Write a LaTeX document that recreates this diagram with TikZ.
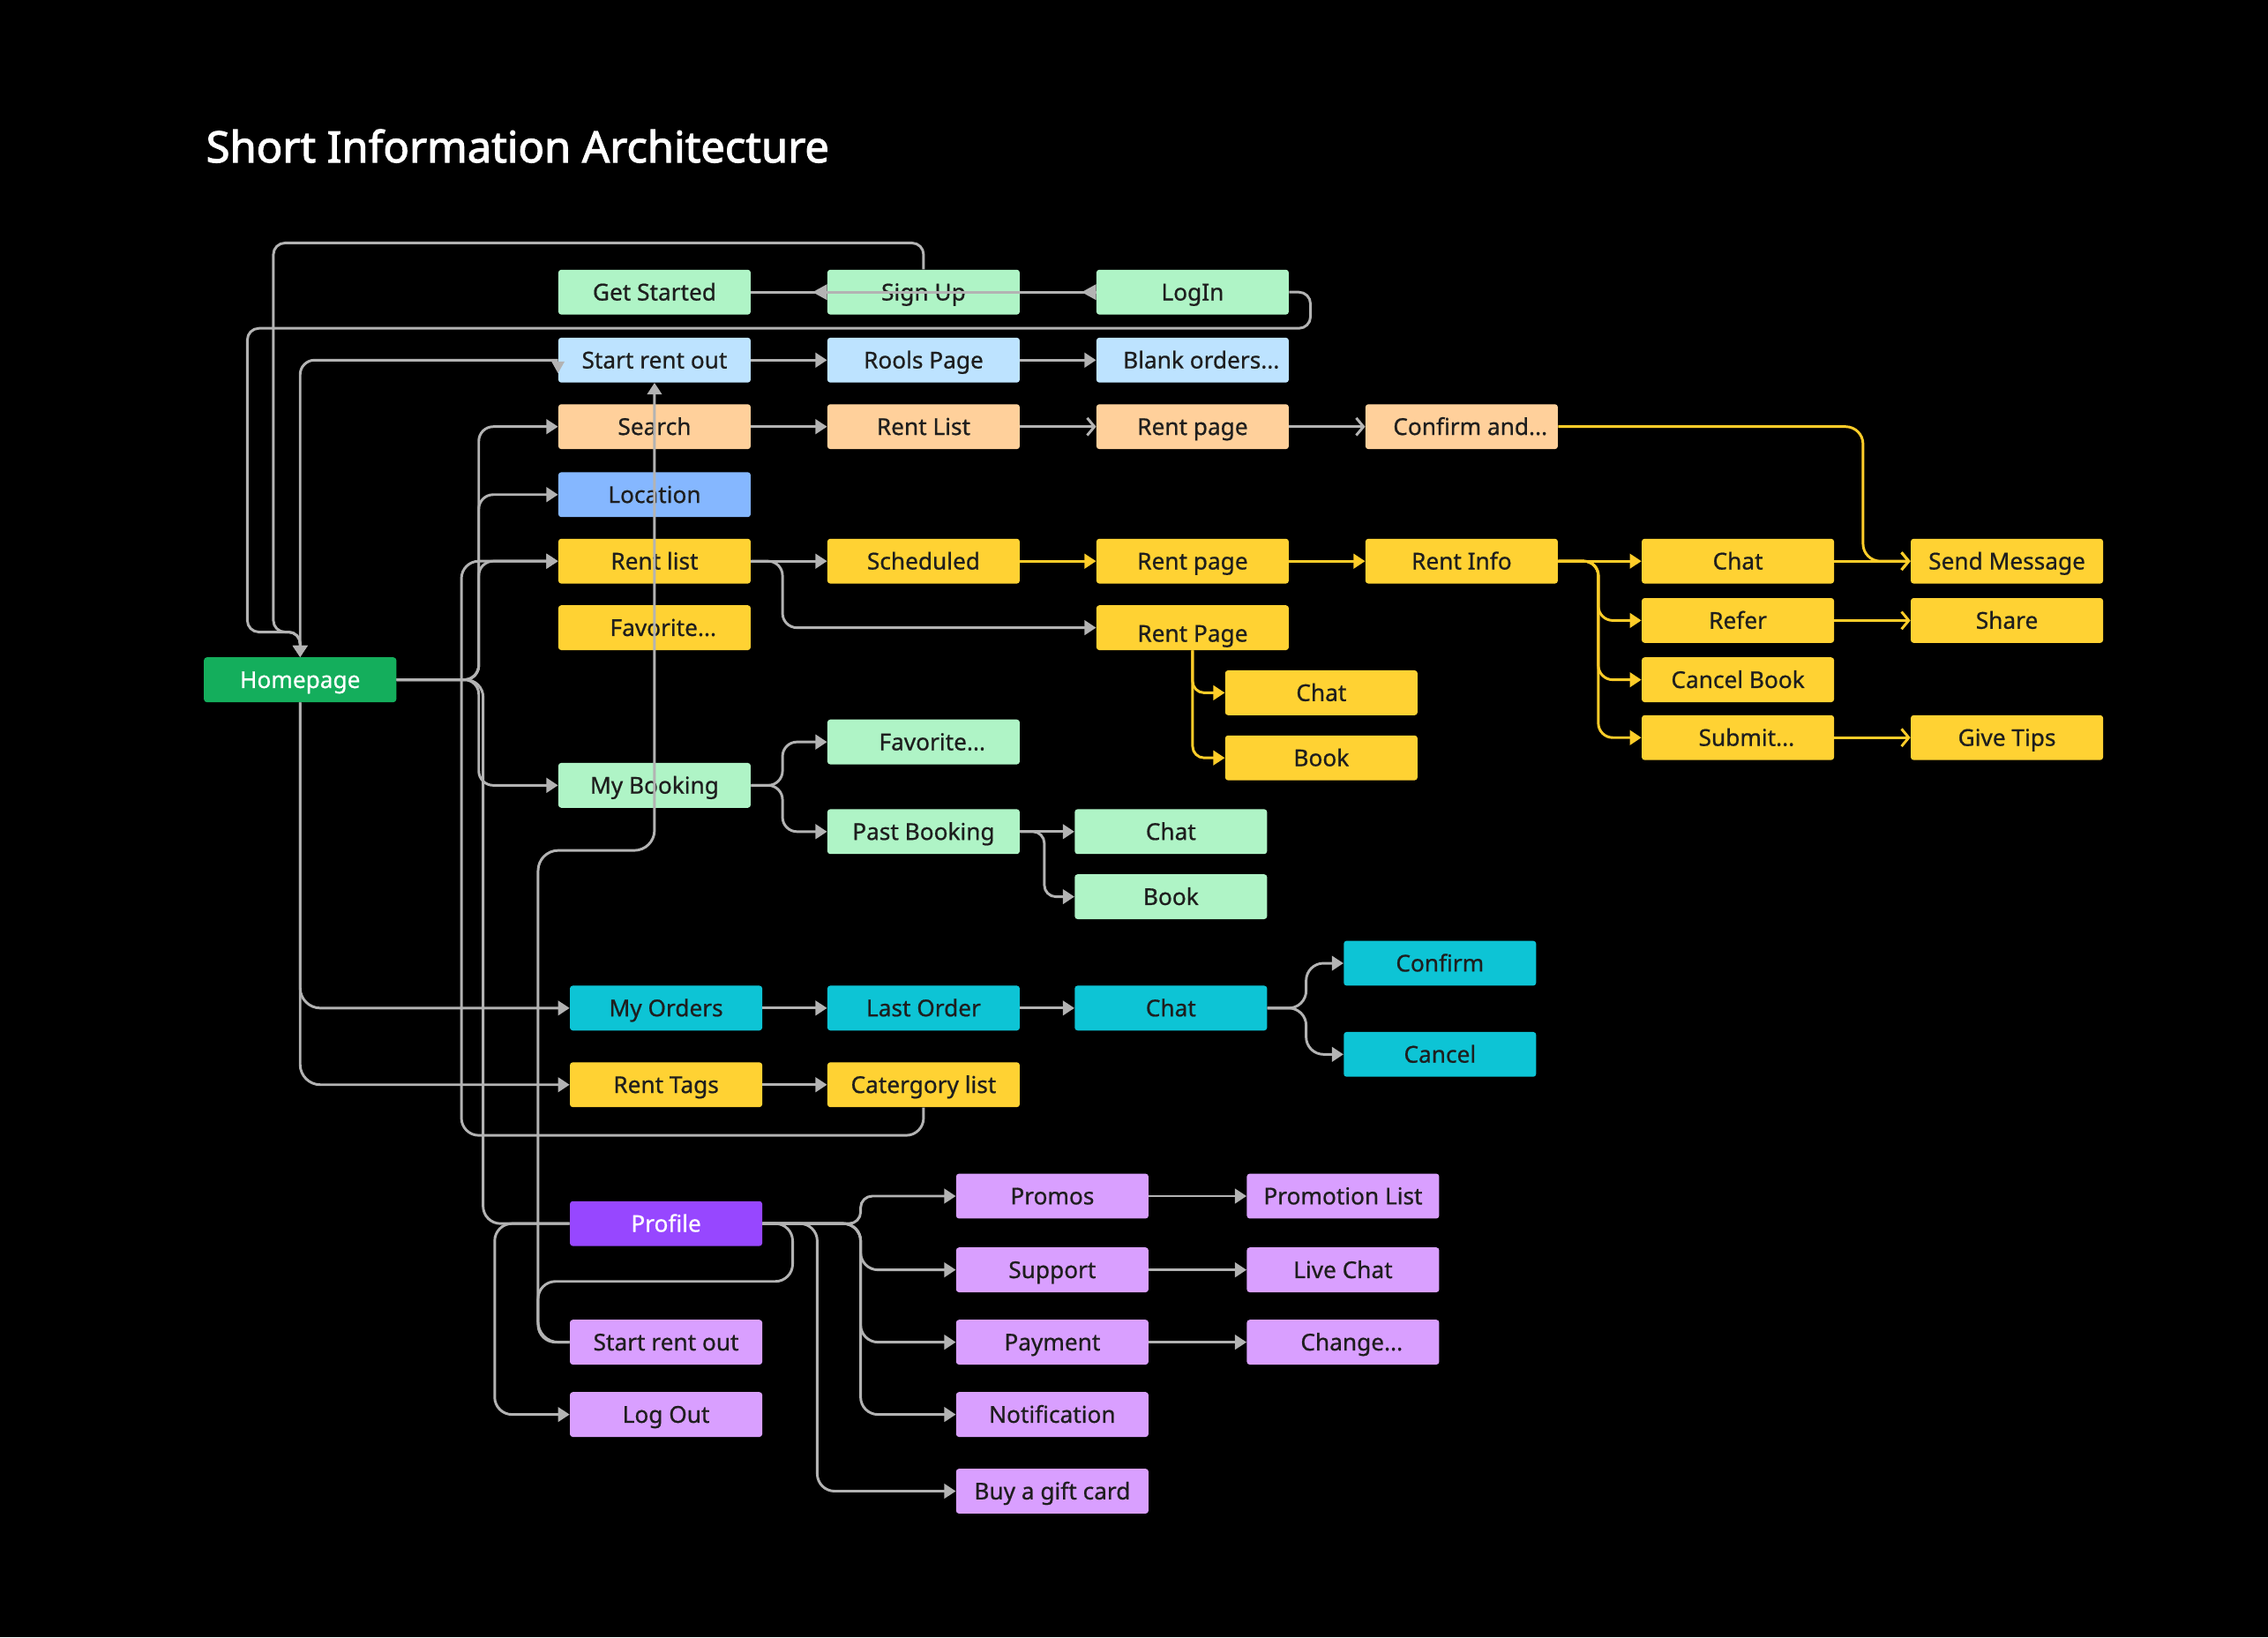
\documentclass[tikz,border=0pt]{standalone}
\usepackage{fontspec}
\setmainfont{Noto Sans}
\newfontfamily\titlefont{Noto Sans}[FakeBold=2.2]
\newfontfamily\boxfont{Noto Sans}[FakeBold=0.7]
\usetikzlibrary{arrows.meta}
\pgfdeclarelayer{bg}
\pgfsetlayers{bg,main}
\definecolor{mint}{HTML}{AFF4C6}
\definecolor{sky}{HTML}{BDE3FF}
\definecolor{peach}{HTML}{FFD09B}
\definecolor{blueL}{HTML}{85B7FF}
\definecolor{yel}{HTML}{FFD233}
\definecolor{hgreen}{HTML}{14AE5C}
\definecolor{tealc}{HTML}{0DC4D5}
\definecolor{violet}{HTML}{9747FF}
\definecolor{lilac}{HTML}{D99FFF}
\definecolor{cgray}{HTML}{B3B3B3}
\definecolor{cyel}{HTML}{FFCD29}
\definecolor{ink}{HTML}{1E1E1E}
\newcommand{\ellpad}[1]{\hspace*{12pt}#1}
\tikzset{
  box/.style={minimum width=133pt, minimum height=31pt, inner sep=0pt, rounded corners=2pt,
    text height=11.4pt, text depth=0pt,
    font=\boxfont\fontsize{16}{18}\selectfont, text=ink},
  gline/.style={draw=cgray, line width=1.8pt, rounded corners=10pt},
  yline/.style={draw=cyel, line width=1.8pt, rounded corners=10pt},
  ftip/.style={-{Triangle[length=8pt,width=10pt]}},
  otip/.style={-{Straight Barb[length=5pt,width=12pt]}},
}
\begin{document}
\begin{tikzpicture}[x=1pt,y=-1pt]
\fill[black] (0,0) rectangle (1568,1132);
\useasboundingbox (0,0) rectangle (1568,1132);

\node[anchor=west, text=white, font=\titlefont\fontsize{29.8}{32}\selectfont] (title) at (139,101) {Short Information Architecture};

% nodes
\node[box, fill=mint] (gs) at (452.5,202) {Get Started};
\node[box, fill=mint] (su) at (638.5,202) {Sign Up};
\node[box, fill=mint] (login) at (824.5,202) {LogIn};
\node[box, fill=sky] (sro) at (452.5,249) {Start rent out};
\node[box, fill=sky] (rools) at (638.5,249) {Rools Page};
\node[box, fill=sky] (blank) at (824.5,249) {\ellpad{Blank orders...}};
\node[box, fill=peach] (search) at (452.5,295) {Search};
\node[box, fill=peach] (rlist) at (638.5,295) {Rent List};
\node[box, fill=peach] (rpage) at (824.5,295) {Rent page};
\node[box, fill=peach] (confirm) at (1010.5,295) {\ellpad{Confirm and...}};
\node[box, fill=blueL] (loc) at (452.5,342) {Location};
\node[box, fill=yel] (rl) at (452.5,388) {Rent list};
\node[box, fill=yel] (sched) at (638.5,388) {Scheduled};
\node[box, fill=yel] (rp1) at (824.5,388) {Rent page};
\node[box, fill=yel] (ri) at (1010.5,388) {Rent Info};
\node[box, fill=yel] (chaty) at (1201.5,388) {Chat};
\node[box, fill=yel] (send) at (1387.5,388) {Send Message};
\node[box, fill=yel] (fav1) at (452.5,434) {\ellpad{Favorite...}};
\node[box, fill=yel, text height=19.4pt] (rp2) at (824.5,434) {Rent Page};
\node[box, fill=yel] (refer) at (1201.5,429) {Refer};
\node[box, fill=yel] (share) at (1387.5,429) {Share};
\node[box, fill=yel] (cancelb) at (1201.5,470) {Cancel Book};
\node[box, fill=yel] (submit) at (1201.5,510) {\ellpad{Submit...}};
\node[box, fill=yel] (tips) at (1387.5,510) {Give Tips};
\node[box, fill=yel] (chat1) at (913.5,479) {Chat};
\node[box, fill=yel] (book1) at (913.5,524) {Book};
\node[box, fill=hgreen, text=white] (hp) at (207.5,470) {Homepage};
\node[box, fill=mint] (fav2) at (638.5,513) {\ellpad{Favorite...}};
\node[box, fill=mint] (mb) at (452.5,543) {My Booking};
\node[box, fill=mint] (past) at (638.5,575) {Past Booking};
\node[box, fill=mint] (chat2) at (809.5,575) {Chat};
\node[box, fill=mint] (book2) at (809.5,620) {Book};
\node[box, fill=tealc] (mo) at (460.5,697) {My Orders};
\node[box, fill=tealc] (lo) at (638.5,697) {Last Order};
\node[box, fill=tealc] (chat3) at (809.5,697) {Chat};
\node[box, fill=tealc] (conf) at (995.5,666) {Confirm};
\node[box, fill=tealc] (canc) at (995.5,729) {Cancel};
\node[box, fill=yel] (rt) at (460.5,750) {Rent Tags};
\node[box, fill=yel] (cat) at (638.5,750) {Catergory list};
\node[box, fill=violet, text=white] (prof) at (460.5,846) {Profile};
\node[box, fill=lilac] (sro2) at (460.5,928) {Start rent out};
\node[box, fill=lilac] (logout) at (460.5,978) {Log Out};
\node[box, fill=lilac] (promos) at (727.5,827) {Promos};
\node[box, fill=lilac] (support) at (727.5,878) {Support};
\node[box, fill=lilac] (payment) at (727.5,928) {Payment};
\node[box, fill=lilac] (notif) at (727.5,978) {Notification};
\node[box, fill=lilac] (gift) at (727.5,1031) {Buy a gift card};
\node[box, fill=lilac] (plist) at (928.5,827) {Promotion List};
\node[box, fill=lilac] (live) at (928.5,878) {Live Chat};
\node[box, fill=lilac] (change) at (928.5,928) {\ellpad{Change...}};

% hidden line behind Support
\begin{pgfonlayer}{bg}
\draw[gline, rounded corners=12pt] (prof.east) -- (694,846) -- ([xshift=-33.5pt]payment.north);
\end{pgfonlayer}

% top gray connectors
\draw[gline] (gs.east) -- (login.west);
\fill[cgray] ([yshift=-5.5pt]su.west) -- ([xshift=-10pt]su.west) -- ([yshift=5.5pt]su.west) -- cycle;
\fill[cgray] ([yshift=-5.5pt]login.west) -- ([xshift=-10pt]login.west) -- ([yshift=5.5pt]login.west) -- cycle;
\draw[gline, ftip, rounded corners=8pt] (su.north) -- (638.5,168) -- (189,168) -- (189,437) -- (207.5,437) -- (hp.north);
\draw[gline, ftip, rounded corners=8pt] (login.east) -- (906,202) -- (906,227) -- (171,227) -- (171,437) -- (207.5,437) -- (hp.north);
\draw[gline, ftip] (sro.west) -- (207.5,249) -- (hp.north);
\fill[cgray] ([shift={(-4.5,1)}]sro.west) -- ([shift={(4.5,1)}]sro.west) -- ([shift={(0,9)}]sro.west) -- cycle;

\draw[gline, ftip] (sro.east) -- (rools.west);
\draw[gline, ftip] (rools.east) -- (blank.west);
\draw[gline, ftip] (search.east) -- (rlist.west);
\draw[gline, otip] (rlist.east) -- (rpage.west);
\draw[gline, otip] (rpage.east) -- (confirm.west);

% homepage bus
\draw[gline, ftip] (hp.east) -- (331,470) -- (331,295) -- (search.west);
\draw[gline, ftip] (hp.east) -- (331,470) -- (331,342) -- (loc.west);
\draw[gline, ftip] (hp.east) -- (331,470) -- (331,388) -- (rl.west);
\draw[gline, ftip] (hp.east) -- (331,470) -- (331,543) -- (mb.west);
\draw[gline, rounded corners=12pt] (hp.east) -- (334,470) -- (334,846) -- (prof.west);
\draw[gline, ftip, rounded corners=12pt] (cat.south) -- (638.5,785) -- (319,785) -- (319,388) -- (rl.west);
\draw[gline, ftip, rounded corners=14pt] (hp.south) -- (207.5,697) -- (mo.west);
\draw[gline, ftip, rounded corners=14pt] (hp.south) -- (207.5,750) -- (rt.west);

% rent list
\draw[gline, ftip] (rl.east) -- (sched.west);
\draw[gline, ftip] (rl.east) -- (541,388) -- (541,434) -- (rp2.west);

% my booking
\draw[gline, ftip] (mb.east) -- (541,543) -- (541,513) -- (fav2.west);
\draw[gline, ftip] (mb.east) -- (541,543) -- (541,575) -- (past.west);
\draw[gline, ftip] (past.east) -- (chat2.west);
\draw[gline, ftip, rounded corners=8pt] (past.east) -- (722,575) -- (722,620) -- (book2.west);

% orders
\draw[gline, ftip] (mo.east) -- (lo.west);
\draw[gline, ftip] (lo.east) -- (chat3.west);
\draw[gline, ftip, rounded corners=12pt] (chat3.east) -- (903,697) -- (903,666) -- (conf.west);
\draw[gline, ftip, rounded corners=12pt] (chat3.east) -- (903,697) -- (903,729) -- (canc.west);
\draw[gline, ftip] (rt.east) -- (cat.west);

% start rent out loop
\draw[gline, ftip, rounded corners=14pt] (sro2.west) -- (372,928) -- (372,588) -- (452.5,588) -- (sro.south);
\draw[gline, rounded corners=12pt] (prof.east) -- (548,846) -- (548,886) -- (372,886) -- (372,928) -- (sro2.west);
\draw[gline, ftip, rounded corners=12pt] (prof.west) -- (342,846) -- (342,978) -- (logout.west);

% profile branches
\draw[gline, ftip, rounded corners=8pt] (prof.east) -- (595,846) -- (595,827) -- (promos.west);
\draw[gline, ftip, rounded corners=12pt] (prof.east) -- (595,846) -- (595,878) -- (support.west);
\draw[gline, ftip, rounded corners=12pt] (prof.east) -- (595,846) -- (595,928) -- (payment.west);
\draw[gline, ftip, rounded corners=12pt] (prof.east) -- (595,846) -- (595,978) -- (notif.west);
\draw[gline, ftip, rounded corners=12pt] (prof.east) -- (565,846) -- (565,1031) -- (gift.west);
\draw[gline, ftip] (promos.east) -- (plist.west);
\draw[gline, ftip] (support.east) -- (live.west);
\draw[gline, ftip] (payment.east) -- (change.west);

% yellow connectors
\draw[yline, ftip] (sched.east) -- (rp1.west);
\draw[yline, ftip] (rp1.east) -- (ri.west);
\draw[yline, ftip] (ri.east) -- (chaty.west);
\draw[yline, ftip] (ri.east) -- (1105,388) -- (1105,429) -- (refer.west);
\draw[yline, ftip] (ri.east) -- (1105,388) -- (1105,470) -- (cancelb.west);
\draw[yline, ftip] (ri.east) -- (1105,388) -- (1105,510) -- (submit.west);
\draw[yline, otip] (chaty.east) -- (send.west);
\draw[yline, otip] (refer.east) -- (share.west);
\draw[yline, otip] (submit.east) -- (tips.west);
\draw[yline, otip, rounded corners=12pt] (confirm.east) -- (1288,295) -- (1288,388) -- (send.west);
\draw[yline, ftip, rounded corners=8pt] (rp2.south) -- (824.5,479) -- (chat1.west);
\draw[yline, ftip, rounded corners=8pt] (rp2.south) -- (824.5,524) -- (book1.west);
\end{tikzpicture}
\end{document}
